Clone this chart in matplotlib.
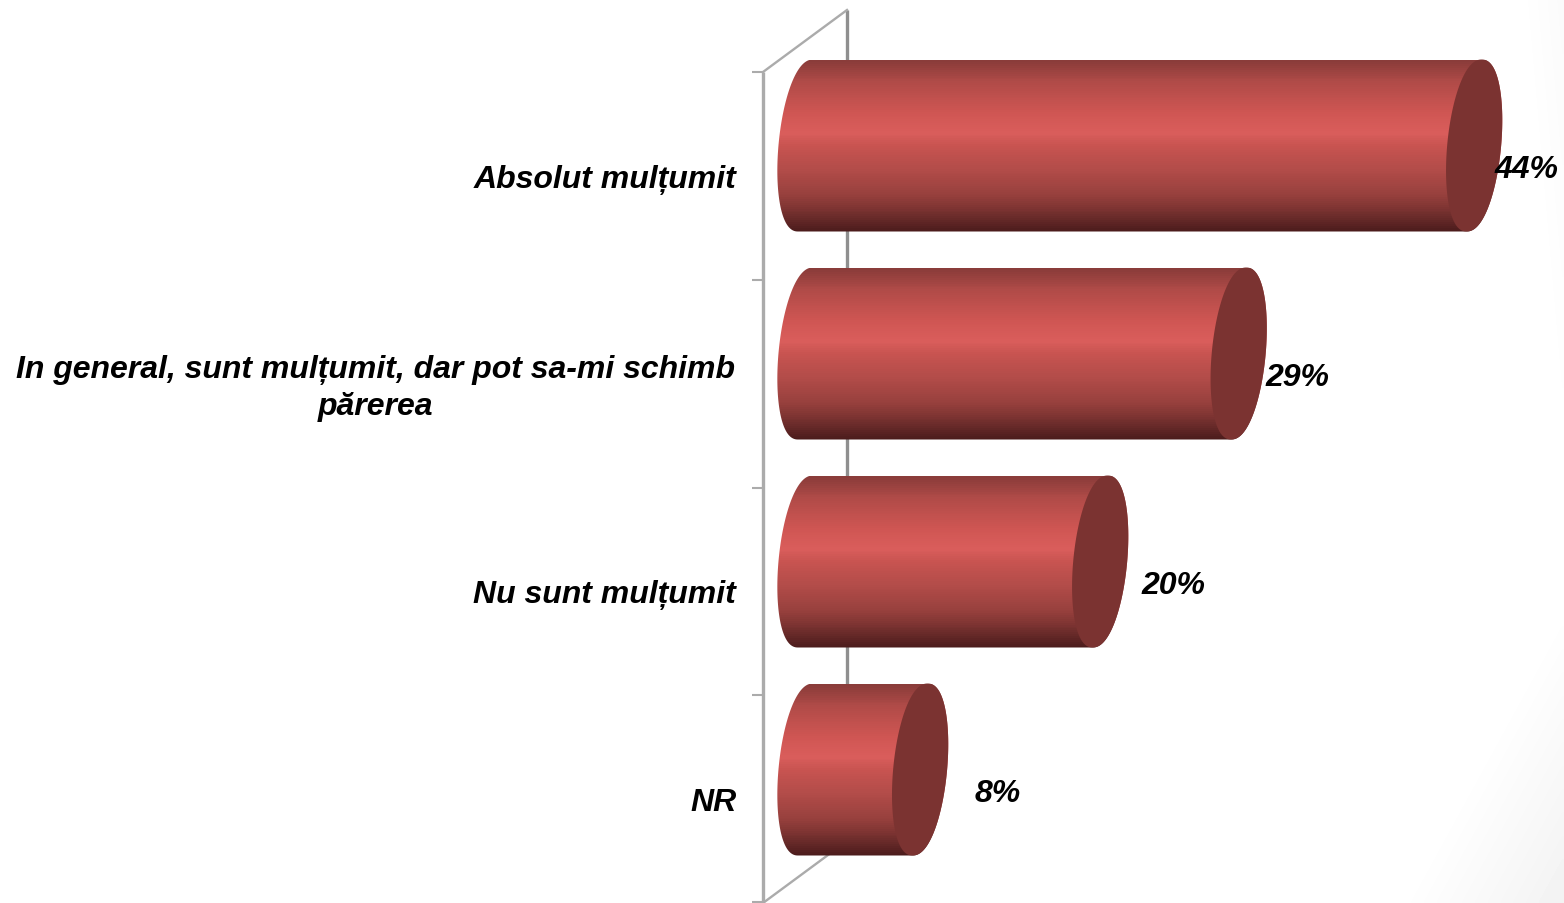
import numpy as np
import matplotlib
matplotlib.use("Agg")
import matplotlib.pyplot as plt
from matplotlib.colors import LinearSegmentedColormap
from matplotlib.patches import Polygon

categories = ["Absolut mulțumit",
              "In general, sunt mulțumit, dar pot sa-mi schimb\npărerea",
              "Nu sunt mulțumit",
              "NR"]
values = [44.0, 28.7, 19.7, 8.0]
value_labels = ["44%", "29%", "20%", "8%"]

W, H = 1564, 904
fig = plt.figure(figsize=(W / 100, H / 100), dpi=100)

#--- pixel axes behind the bars: page shading and the 3D walls
back = fig.add_axes([0, 0, 1, 1], zorder=0)
back.set_xlim(0, W)
back.set_ylim(H, 0)
back.axis("off")

xx, yy = np.meshgrid(np.linspace(0, W, 400), np.linspace(0, H, 240))
shade = np.clip((xx - 1400) / 164 + (yy - 904) / 300, 0, 1)
shade = np.maximum(shade, 0.35 * np.clip((xx - 1520) / 44 - yy / 500, 0, 1))
back.imshow(1 - 0.05 * shade, cmap="gray", vmin=0, vmax=1, extent=[0, W, H, 0], aspect="auto",
            interpolation="bilinear")

wall = "#ababab"
back.plot([763, 763], [73, 904], color=wall, lw=2.4, solid_capstyle="butt")
back.plot([847, 847], [11, 850], color="#8f8f8f", lw=2.4, solid_capstyle="butt")
back.plot([763, 847], [73, 11], color=wall, lw=1.7)
back.plot([763, 847], [904, 842], color=wall, lw=1.7)
for y in [73, 281, 489, 696, 903]:
    back.plot([752, 763], [y, y], color=wall, lw=1.5, solid_capstyle="butt")
back.set_xlim(0, W)
back.set_ylim(H, 0)

#--- bars, on axes scaled in percent / category
ax = fig.add_axes([0, 0, 1, 1], zorder=1)
ax.patch.set_alpha(0)
ax.axis("off")

px_per_unit = 15.39
x_origin = 797
y_origin = 146.5
ax.set_xlim(-x_origin / px_per_unit, (W - x_origin) / px_per_unit)
ax.set_ylim((H - y_origin) / 208, -y_origin / 208)

base = 0.55
half_h = 86 / 208
cap_a = 27 / px_per_unit
cap_skew = 7.5 / px_per_unit

stops = [(0.0, "#8a3c3a"), (0.12, "#b04b48"), (0.3, "#cf5653"), (0.425, "#da5e5c"),
         (0.5, "#c85451"), (0.65, "#b14c49"), (0.8, "#953f3c"), (0.92, "#6b2c2b"), (1.0, "#4c1c1c")]
cylinder = LinearSegmentedColormap.from_list("cylinder", stops, N=90)
gradient = np.linspace(0, 1, 172).reshape(-1, 1)


def ellipse(cx, cy, t):
    # a little fuller than a true ellipse, the way the 3D caps are rendered
    c = np.cos(t)
    bulge = np.sign(c) * np.abs(c) ** 0.9
    return np.column_stack([cx + cap_a * bulge + cap_skew * np.sin(t), cy - half_h * np.sin(t)])


for i, v in enumerate(values):
    left = ellipse(base, i, np.linspace(np.pi / 2, 3 * np.pi / 2, 120))
    right = ellipse(v, i, np.linspace(-np.pi / 2, np.pi / 2, 120))
    body = Polygon(np.vstack([left, right]), closed=True, transform=ax.transData,
                   facecolor="none", edgecolor="none")
    ax.add_patch(body)
    im = ax.imshow(gradient, cmap=cylinder, extent=[base - 3, v + 3, i + half_h, i - half_h],
                   aspect="auto", interpolation="nearest", zorder=2)
    im.set_clip_path(body)
    cap = ellipse(v, i, np.linspace(0, 2 * np.pi, 240))
    ax.add_patch(Polygon(cap, closed=True, facecolor="#7b3331", edgecolor="none", zorder=3))

ax.set_xlim(-x_origin / px_per_unit, (W - x_origin) / px_per_unit)
ax.set_ylim((H - y_origin) / 208, -y_origin / 208)

#--- texts, placed in page pixels
font = dict(family="Liberation Sans", fontweight="bold", fontstyle="italic", fontsize=23, color="black",
            zorder=5, transform=back.transData)
cat_x = [736, 375, 736, 737]
cat_y = [180, 388.5, 595, 803]
cat_ha = ["right", "center", "right", "right"]
for name, x, y, ha in zip(categories, cat_x, cat_y, cat_ha):
    ax.text(x, y, name, ha=ha, va="center", ma="center", linespacing=1.29, **font)

label_x = [1526.5, 1297.5, 1173.5, 998]
label_y = [170, 378, 586, 794]
for text, x, y in zip(value_labels, label_x, label_y):
    ax.text(x, y, text, ha="center", va="center", **font)

fig.savefig("out.png", dpi=100)
